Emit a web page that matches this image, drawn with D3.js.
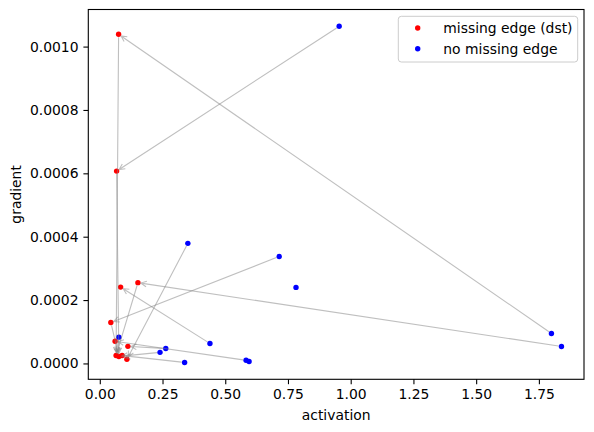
<!DOCTYPE html>
<html>
<head>
<meta charset="utf-8">
<script src="https://cdn.jsdelivr.net/npm/d3@7"></script>
<style>
  body { margin: 0; background: #fff; }
  svg { font-family: 'DejaVu Sans', sans-serif; }
</style>
</head>
<body>
<svg id="chart" width="594" height="432"></svg>
<script>
// nodes with a missing edge (dst), red
const redX = [0.075, 0.067, 0.083, 0.152, 0.044, 0.061, 0.112, 0.065, 0.076, 0.089, 0.108];
const redY = [0.001039, 0.000607, 0.000241, 0.000255, 0.000129, 0.000070, 0.000054, 0.000025, 0.000022, 0.000025, 0.000013];
// nodes with no missing edge, blue
const blueX = [0.954, 0.351, 0.715, 0.782, 1.800, 1.840, 0.439, 0.583, 0.595, 0.338, 0.263, 0.240, 0.076];
const blueY = [0.001064, 0.000379, 0.0003375, 0.000240, 0.0000946, 0.0000536, 0.000063, 0.000010, 0.0000063, 0.000003, 0.000047, 0.000035, 0.000083];
// edges: [source, target], 'b3' = blue index 3, 'r1' = red index 1
const edges = [
  ['b0', 'r1'], ['b4', 'r0'], ['b5', 'r3'], ['b2', 'r4'], ['b6', 'r2'],
  ['b1', 'r10'], ['r0', 'r7'], ['r1', 'r8'], ['r3', 'r7'], ['r4', 'r8'],
  ['b7', 'r5'], ['b9', 'r9'], ['b10', 'r6'], ['b11', 'r8'], ['b12', 'r7']
];
const xTicks = [0, 0.25, 0.5, 0.75, 1.0, 1.25, 1.5, 1.75];
const yTicks = [0, 0.0002, 0.0004, 0.0006, 0.0008, 0.0010];
const legendLabels = ['missing edge (dst)', 'no missing edge'];
const colors = ['#ff0000', '#0000ff'];

let mLeft = 88.3, mTop = 9.5, mRight = 584, mBottom = 379.3;
let fontSize = 13.9;
let tickLen = 4.9;

const svg = d3.select('#chart');

const allX = redX.concat(blueX);
const allY = redY.concat(blueY);
const pad = (ext) => {
  let r = ext[1] - ext[0];
  return [ext[0] - r * 0.05, ext[1] + r * 0.05];
};
const x = d3.scaleLinear().domain(pad(d3.extent(allX))).range([mLeft, mRight]);
const y = d3.scaleLinear().domain(pad(d3.extent(allY))).range([mBottom, mTop]);

const pos = (key) => {
  let i = +key.slice(1);
  return key[0] === 'r' ? [x(redX[i]), y(redY[i])] : [x(blueX[i]), y(blueY[i])];
};

// axes
const xAxis = svg.append('g')
  .attr('transform', 'translate(0,' + mBottom + ')')
  .call(d3.axisBottom(x).tickValues(xTicks).tickFormat(d3.format('.2f'))
    .tickSize(tickLen).tickSizeOuter(0).tickPadding(4.9));
const yAxis = svg.append('g')
  .attr('transform', 'translate(' + mLeft + ',0)')
  .call(d3.axisLeft(y).tickValues(yTicks).tickFormat(d3.format('.4f'))
    .tickSize(tickLen).tickSizeOuter(0).tickPadding(4.9));
[xAxis, yAxis].forEach(function (a) {
  a.select('.domain').remove();
  a.selectAll('line').attr('stroke', '#000').attr('stroke-width', 1.1);
  a.selectAll('text').attr('font-size', fontSize).attr('fill', '#000')
    .attr('font-family', 'DejaVu Sans');
});

// points
svg.append('g').selectAll('circle.r')
  .data(redX)
  .enter()
  .append('circle')
  .attr('cx', (d, i) => x(d))
  .attr('cy', (d, i) => y(redY[i]))
  .attr('r', 2.7)
  .attr('fill', colors[0]);
svg.append('g').selectAll('circle.b')
  .data(blueX)
  .enter()
  .append('circle')
  .attr('cx', (d, i) => x(d))
  .attr('cy', (d, i) => y(blueY[i]))
  .attr('r', 2.7)
  .attr('fill', colors[1]);

// arrows, one path each so the alpha is applied once
let headLen = 5.6, headW = 2.8, shrink = 3;
svg.append('g').selectAll('path')
  .data(edges)
  .enter()
  .append('path')
  .attr('d', function (e) {
    let s = pos(e[0]), t = pos(e[1]);
    let dx = t[0] - s[0], dy = t[1] - s[1];
    let len = Math.sqrt(dx * dx + dy * dy);
    let ux = dx / len, uy = dy / len;
    let sx = s[0] + ux * shrink, sy = s[1] + uy * shrink;
    let tx = t[0] - ux * shrink, ty = t[1] - uy * shrink;
    let bx = tx - ux * headLen, by = ty - uy * headLen;
    return 'M' + sx + ',' + sy + 'L' + tx + ',' + ty +
      'M' + (bx - uy * headW) + ',' + (by + ux * headW) +
      'L' + tx + ',' + ty +
      'L' + (bx + uy * headW) + ',' + (by - ux * headW);
  })
  .attr('fill', 'none')
  .attr('stroke', 'gray')
  .attr('stroke-opacity', 0.5)
  .attr('stroke-width', 1.1);

// frame
svg.append('rect')
  .attr('x', mLeft)
  .attr('y', mTop)
  .attr('width', mRight - mLeft)
  .attr('height', mBottom - mTop)
  .attr('fill', 'none')
  .attr('stroke', '#000')
  .attr('stroke-width', 1.1);

// axis labels
svg.append('text')
  .attr('x', (mLeft + mRight) / 2)
  .attr('y', 420)
  .attr('text-anchor', 'middle')
  .attr('font-size', fontSize)
  .text('activation');
svg.append('text')
  .attr('transform', 'translate(21,' + ((mTop + mBottom) / 2) + ') rotate(-90)')
  .attr('text-anchor', 'middle')
  .attr('font-size', fontSize)
  .text('gradient');

// legend
const legend = svg.append('g');
legend.append('rect')
  .attr('x', 398.3)
  .attr('y', 16.3)
  .attr('width', 179.4)
  .attr('height', 45.7)
  .attr('rx', 3)
  .attr('fill', '#fff')
  .attr('fill-opacity', 0.8)
  .attr('stroke', '#cccccc')
  .attr('stroke-width', 1);
legendLabels.forEach(function (lab, i) {
  let cy = 28 + i * 20.7;
  legend.append('circle')
    .attr('cx', 417.7)
    .attr('cy', cy)
    .attr('r', 2.7)
    .attr('fill', colors[i]);
  legend.append('text')
    .attr('x', 443.3)
    .attr('y', cy + 5)
    .attr('font-size', fontSize)
    .text(lab);
});
</script>
</body>
</html>
